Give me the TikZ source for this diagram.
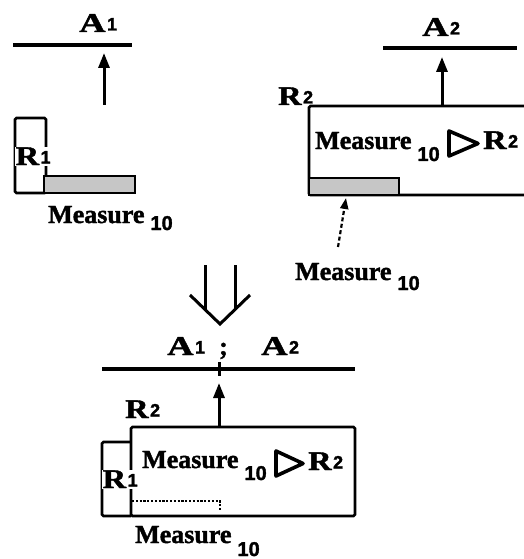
\documentclass[tikz,border=0pt]{standalone}
\usepackage{fontspec,graphicx}
\setmainfont{Liberation Serif}[BoldFeatures={FakeBold=1.5}]
\setsansfont{Liberation Sans}[BoldFeatures={FakeBold=1.5}]
\usetikzlibrary{positioning,arrows.meta,calc}
\newcommand{\wA}{{\fontsize{27}{27}\selectfont\scalebox{1.35}[1]{A}}}
\newcommand{\wR}{{\fontsize{27}{27}\selectfont\scalebox{1.2}[1]{R}}}
\newcommand{\idx}[1]{\kern1.5pt\raisebox{1.5pt}{\sffamily\bfseries\fontsize{18}{18}\selectfont #1}}
\newcommand{\low}[2][12pt]{\kern6pt\raisebox{-#1}{\sffamily\bfseries\fontsize{20}{20}\selectfont #2}}
\tikzset{
  lbl/.style={font=\bfseries\fontsize{26}{26}\selectfont, inner sep=0pt, anchor=base west},
  rule/.style={line width=3.4pt},
  arr/.style={-{Triangle[length=15pt,width=11pt]}, line width=3pt},
  darr/.style={-{Triangle[length=11pt,width=8pt]}, line width=2.2pt, dash pattern=on 4pt off 2.5pt},
  frame/.style={line width=2.8pt, rounded corners=1.5pt},
  shade/.style={draw, line width=1.4pt, fill=gray!45},
  trace/.style={line width=1.4pt, dash pattern=on 2.2pt off 1.6pt},
  tri/.style={line width=3.6pt, line join=round},
  big/.style={line width=3pt},
}
\begin{document}
\begin{tikzpicture}[x=1pt,y=-1pt]
  \useasboundingbox (0,0) rectangle (524,559);
  \node[lbl] (a1) at (79,32) {\wA\idx{1}};
  \coordinate (l1w) at (13,45); \coordinate (l1e) at (132,45);
  \draw[rule] (l1w) -- (l1e);
  \coordinate (s1) at (104,105); \coordinate (t1) at (104,53);
  \draw[arr] (s1) -- (t1);
  \draw[frame] (15,118) rectangle (46,193);
  \draw[shade] (44,176) rectangle (135,193);
  \node[lbl, fill=white, inner sep=0.5pt] (r1) at (15,165) {\wR\idx{1}};
  \node[lbl] (m1) at (48,223) {Measure\low[7pt]{10}};

  \node[lbl] (a2) at (422,36) {\wA\idx{2}};
  \coordinate (l2w) at (383,48); \coordinate (l2e) at (517,48);
  \draw[rule] (l2w) -- (l2e);
  \coordinate (s2) at (442,106); \coordinate (t2) at (442,57);
  \draw[arr] (s2) -- (t2);
  \node[lbl] (r2) at (278,105) {\wR\idx{2}};
  \draw[frame] (526,106) -- (309,106) -- (309,195) -- (526,195);
  \draw[shade] (309,178) rectangle (399,195);
  \node[lbl] (mt2) at (315,149) {Measure\low{10}};
  \draw[tri] (449,131) -- (478,143.5) -- (449,156) -- cycle;
  \node[lbl] (rt2) at (483,149) {\wR\idx{2}};
  \coordinate (s3) at (338,247); \coordinate (t3) at (346,198);
  \draw[darr] (s3) -- (t3);
  \node[lbl] (m2) at (295,280) {Measure\low[10pt]{10}};

  \draw[big] (205,265) -- (205,309) (235,265) -- (235,309);
  \draw[big] (190,295) -- (220,324) -- (250,295);

  \node[lbl] (a1b) at (167,355) {\wA\idx{1}};
  \node[lbl] (semi) at (219,355) {;};
  \node[lbl] (a2b) at (261,355) {\wA\idx{2}};
  \coordinate (l3w) at (102,369); \coordinate (l3e) at (355,369);
  \draw[rule] (l3w) -- (l3e);
  \draw[big] (219,362) -- (219,376);
  \coordinate (s4) at (219,427); \coordinate (t4) at (219,383);
  \draw[arr] (s4) -- (t4);
  \node[lbl] (r2b) at (125,418) {\wR\idx{2}};
  \draw[frame] (131,427) rectangle (355,516);
  \draw[frame] (131,442) -- (102,442) -- (102,516) -- (131,516);
  \node[lbl, fill=white, inner sep=0.5pt] (r1b) at (102,488) {\wR\idx{1}};
  \node[lbl] (mtb) at (142,468) {Measure\low{10}};
  \draw[tri] (276,451) -- (303,463.5) -- (276,476) -- cycle;
  \node[lbl] (rtb) at (308,470) {\wR\idx{2}};
  \draw[trace] (132,501) -- (220,501) -- (220,510);
  \node[lbl] (mb) at (135,543) {Measure\low[13pt]{10}};
\end{tikzpicture}
\end{document}
